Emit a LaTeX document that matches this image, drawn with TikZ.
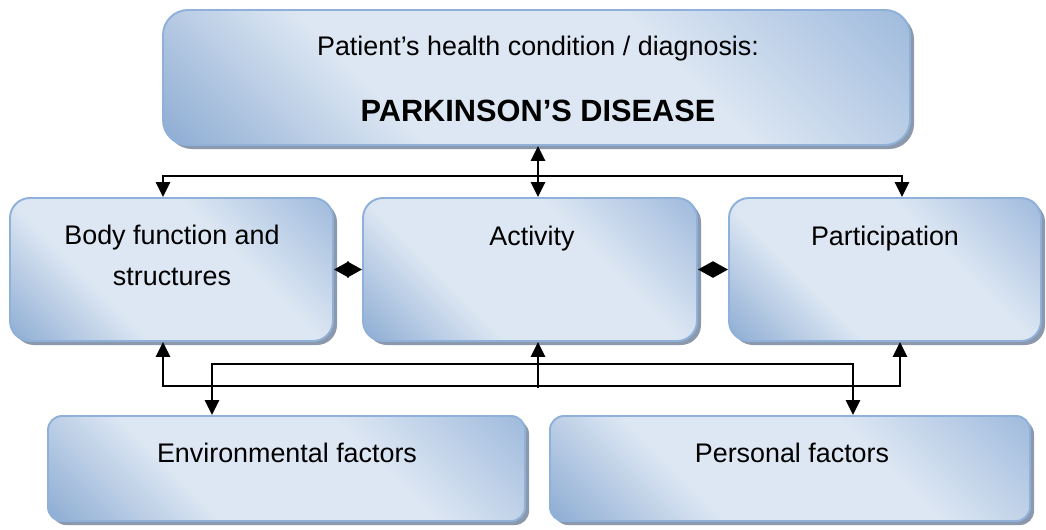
\documentclass[tikz,border=0pt]{standalone}
\usepackage{fontspec}
\setmainfont{Liberation Sans}
\usetikzlibrary{arrows.meta,shadows,fit}

\definecolor{fillLight}{RGB}{221,231,243}
\definecolor{fillDark}{RGB}{146,176,213}
\definecolor{fillMid}{RGB}{160,187,221}
\definecolor{edgeBlue}{RGB}{143,176,216}
\definecolor{shadowGrey}{RGB}{140,152,172}

% diagonal gradient: dark lower-left corner, light band, medium upper-right corner
\pgfdeclareverticalshading{boxshade}{100bp}{%
  color(0bp)=(fillDark); color(16bp)=(fillDark); color(36bp)=(fillLight);
  color(62bp)=(fillLight); color(85bp)=(fillMid); color(100bp)=(fillMid)}

\tikzset{
  Tri/.tip={Triangle[width=8pt,length=8.5pt]},
  Dia/.tip={Triangle[width=9pt,length=8.5pt]},
  box/.style={draw=edgeBlue, line width=1.1pt, rounded corners=#1,
    shading=boxshade, shading angle=-45, inner sep=0pt,
    general shadow={fill=shadowGrey, shadow xshift=0.08cm, shadow yshift=-0.08cm}},
  box/.default=0.4cm,
  lbl/.style={font=\fontsize{15.3}{22.8}\selectfont, align=center,
    inner sep=0pt, anchor=base},
  link/.style={line width=1.4pt, black},
}

\begin{document}
\begin{tikzpicture}[x=0.02cm, y=-0.02cm]
\useasboundingbox (0,0) rectangle (1046,529);

% boxes
\node[box=0.5cm, fit={(163,10) (910,145)}] (top) {};
\node[box, fit={(10,198) (333,341)}] (body) {};
\node[box, fit={(363,198) (697,341)}] (act) {};
\node[box, fit={(729,198) (1041,341)}] (part) {};
\node[box=0.28cm, fit={(48,416) (525,521)}] (env) {};
\node[box=0.28cm, fit={(550,416) (1030,521)}] (pers) {};

% labels (a multi-line label sits on the baseline of its last line)
\node[lbl] (t1) at (538,55) {Patient’s health condition / diagnosis:};
\node[lbl, font=\fontsize{17.5}{22.8}\selectfont\bfseries] (t2) at (538,121) {PARKINSON’S DISEASE};
\node[lbl] (t3) at (172,285) {Body function and\\structures};
\node[lbl] (t4) at (532,245) {Activity};
\node[lbl] (t5) at (885,245) {Participation};
\node[lbl] (t6) at (287,462) {Environmental factors};
\node[lbl] (t7) at (792,462) {Personal factors};

% upper connectors
\coordinate (tl) at (163,176);
\coordinate (tr) at (902,176);
\coordinate (tm) at (538,176);
\draw[link, {Tri}-{Tri}] (body.north -| tl) -- (tl) -- (tr) -- (part.north -| tr);
\draw[link, {Tri}-{Tri}] (top.south -| tm) -- (act.north -| tm);

% links between the middle boxes
\draw[link, {Dia}-{Dia}] (body.east) -- (act.west);
\draw[link, {Dia}-{Dia}] (act.east) -- (part.west);

% lower connectors
\coordinate (bl) at (163,386);
\coordinate (br) at (900,386);
\coordinate (bm) at (538,388);
\draw[link, {Tri}-{Tri}] (body.south -| bl) -- (bl) -- (br) -- (part.south -| br);
\draw[link, -{Tri}] (bm) -- (act.south -| bm);

\coordinate (el) at (212,364);
\coordinate (er) at (853,364);
\draw[link, {Tri}-{Tri}] (env.north -| el) -- (el) -- (er) -- (pers.north -| er);
\end{tikzpicture}
\end{document}
